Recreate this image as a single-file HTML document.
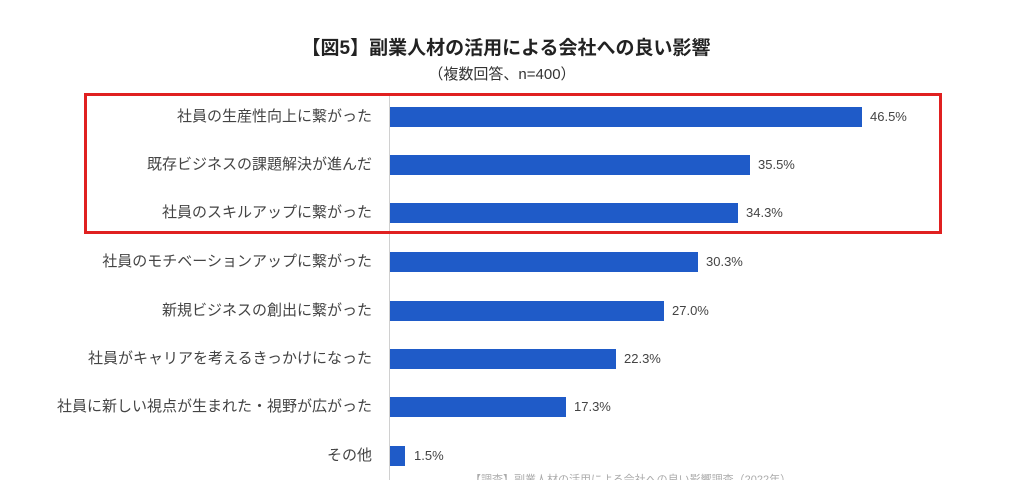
<!DOCTYPE html>
<html><head><meta charset="utf-8"><style>
html,body{margin:0;width:1024px;height:480px;overflow:hidden}
body{background:#fff;font-family:"Liberation Sans","Noto Sans CJK JP",sans-serif;position:relative;color:#404040}
.t{position:absolute;left:0;width:1024px;text-align:center}
.lab{position:absolute;right:652px;font-size:15px;color:#444;white-space:nowrap;line-height:20px}
.bar{position:absolute;left:390px;height:20px;background:#1f5bc8}
.val{position:absolute;font-size:13px;color:#444;line-height:20px}
</style></head><body>
<div class="t" style="top:33px;font-size:19px;font-weight:bold;color:#222;left:-6px">【図5】副業人材の活用による会社への良い影響</div>
<div class="t" style="top:63px;font-size:15px;color:#333;left:-10px">（複数回答、n=400）</div>
<div style="position:absolute;left:389px;top:95px;width:1px;height:385px;background:#d0d0d0"></div>
<div style="position:absolute;left:84px;top:93px;width:852px;height:135px;border:3px solid #e02020"></div>
<div class="lab" style="top:107px">社員の生産性向上に繋がった</div><div class="bar" style="top:107px;width:472px"></div><div class="val" style="top:107px;left:870px">46.5%</div>
<div class="lab" style="top:155px">既存ビジネスの課題解決が進んだ</div><div class="bar" style="top:155px;width:360px"></div><div class="val" style="top:155px;left:758px">35.5%</div>
<div class="lab" style="top:203px">社員のスキルアップに繋がった</div><div class="bar" style="top:203px;width:348px"></div><div class="val" style="top:203px;left:746px">34.3%</div>
<div class="lab" style="top:252px">社員のモチベーションアップに繋がった</div><div class="bar" style="top:252px;width:308px"></div><div class="val" style="top:252px;left:706px">30.3%</div>
<div class="lab" style="top:301px">新規ビジネスの創出に繋がった</div><div class="bar" style="top:301px;width:274px"></div><div class="val" style="top:301px;left:672px">27.0%</div>
<div class="lab" style="top:349px">社員がキャリアを考えるきっかけになった</div><div class="bar" style="top:349px;width:226px"></div><div class="val" style="top:349px;left:624px">22.3%</div>
<div class="lab" style="top:397px">社員に新しい視点が生まれた・視野が広がった</div><div class="bar" style="top:397px;width:176px"></div><div class="val" style="top:397px;left:574px">17.3%</div>
<div class="lab" style="top:446px">その他</div><div class="bar" style="top:446px;width:15px"></div><div class="val" style="top:446px;left:414px">1.5%</div>
<div style="position:absolute;left:470px;top:471px;font-size:11px;color:#aaa;white-space:nowrap">【調査】副業人材の活用による会社への良い影響調査（2022年）</div>
</body></html>
